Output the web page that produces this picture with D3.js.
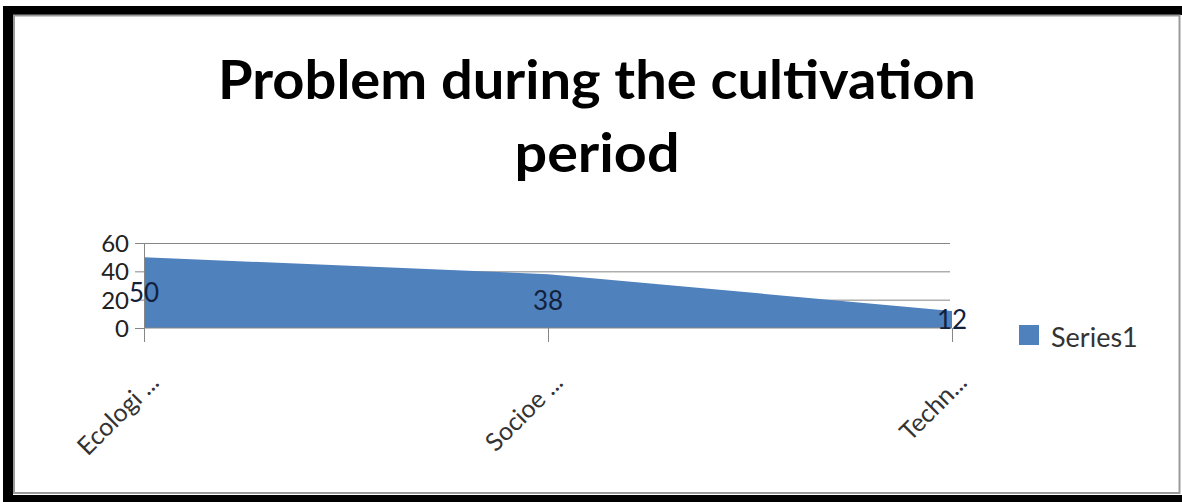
<!DOCTYPE html>
<html>
<head>
<meta charset="utf-8">
<script src="https://cdn.jsdelivr.net/npm/d3@7"></script>
<style>
  body { margin: 0; background: #ffffff; }
  svg { display: block; }
  .axis path, .axis line { stroke: #868686; }
  .grid line { stroke: #868686; }
  .grid path { display: none; }
</style>
</head>
<body>
<div id="chart"></div>
<script>
// chart data
var categories = ["Ecologi ...", "Socioe ...", "Techn..."];
var values = [50, 38, 12];
var yTicks = [0, 20, 40, 60];
var seriesName = "Series1";
var titleLines = ["Problem during the cultivation", "period"];

var W = 1182, H = 502;
var plot = { left: 144, right: 952, top: 243, bottom: 328 };
var areaColor = "#4f81bd";
var font = "Lato, 'Open Sans', sans-serif";

var svg = d3.select("#chart").append("svg")
        .attr("width", W)
        .attr("height", H);

// frame: black bands + thin grey inner border
svg.append("rect").attr("x", 0).attr("y", 0).attr("width", W).attr("height", H).attr("fill", "#ffffff");
svg.append("rect").attr("x", 3).attr("y", 6).attr("width", W - 3).attr("height", 9).attr("fill", "#000");
svg.append("rect").attr("x", 3).attr("y", 6).attr("width", 10).attr("height", H - 6).attr("fill", "#000");
svg.append("rect").attr("x", 3).attr("y", 495).attr("width", W - 3).attr("height", 7).attr("fill", "#000");
svg.append("rect")
        .attr("x", 14).attr("y", 15.5)
        .attr("width", 1165.5).attr("height", 477.5)
        .attr("fill", "none")
        .attr("stroke", "#9a9a9a")
        .attr("stroke-width", 2);

// title (two lines, widths matched to the original)
var title = svg.append("g").attr("class", "title");
var titleWidths = [758, 165];
var titleY = [99, 172];
title.selectAll("text")
        .data(titleLines)
        .enter().append("text")
        .attr("x", 597)
        .attr("y", function (d, i) { return titleY[i]; })
        .attr("text-anchor", "middle")
        .attr("font-family", font)
        .attr("font-weight", "bold")
        .attr("font-size", 53)
        .attr("textLength", function (d, i) { return titleWidths[i]; })
        .attr("lengthAdjust", "spacingAndGlyphs")
        .attr("fill", "#000")
        .text(function (d) { return d; });

var x = d3.scalePoint()
        .domain(categories)
        .range([plot.left, plot.right]);
var y = d3.scaleLinear()
        .domain([0, 60])
        .range([plot.bottom, plot.top]);

// gridlines
svg.append("g")
        .attr("class", "grid")
        .attr("transform", "translate(" + plot.left + ",0)")
        .call(d3.axisLeft(y).tickValues(yTicks.slice(1)).tickSize(-(plot.right - 2 - plot.left)).tickFormat(""));

// area
var area = d3.area()
        .x(function (d, i) { return x(categories[i]); })
        .y0(y(0))
        .y1(function (d) { return y(d); });
svg.append("path")
        .datum(values)
        .attr("d", area)
        .attr("fill", areaColor);

// y axis
var yAxis = svg.append("g")
        .attr("class", "axis y-axis")
        .attr("transform", "translate(" + plot.left + ",0)")
        .call(d3.axisLeft(y).tickValues(yTicks).tickSize(9).tickSizeOuter(0).tickPadding(6));
yAxis.selectAll("text")
        .attr("font-family", font)
        .attr("font-size", 24)
        .attr("fill", "#222")
        .attr("dy", "0.36em");

// x axis
var xAxis = svg.append("g")
        .attr("class", "axis x-axis")
        .attr("transform", "translate(0," + plot.bottom + ")")
        .call(d3.axisBottom(x).tickSize(14).tickSizeOuter(0));
xAxis.select(".domain").attr("d", "M" + plot.left + ",0H" + plot.right);
xAxis.selectAll("text")
        .attr("font-family", font)
        .attr("font-size", 25)
        .attr("fill", "#333")
        .attr("text-anchor", "end")
        .attr("y", 0)
        .attr("dy", 0)
        .attr("transform", "translate(16,56) rotate(-45)");

// data labels, placed at the middle of each column of the area
svg.append("g").selectAll("text")
        .data(values)
        .enter().append("text")
        .attr("x", function (d, i) { return x(categories[i]); })
        .attr("y", function (d) { return y(d / 2); })
        .attr("dy", "0.36em")
        .attr("text-anchor", "middle")
        .attr("font-family", font)
        .attr("font-size", 26)
        .attr("fill", "#13213d")
        .text(function (d) { return d; });

// legend
var legend = svg.append("g").attr("transform", "translate(1019,325)");
legend.append("rect")
        .attr("width", 20).attr("height", 20)
        .attr("fill", areaColor);
legend.append("text")
        .attr("x", 32).attr("y", 22)
        .attr("font-family", font)
        .attr("font-size", 27)
        .attr("fill", "#333")
        .text(seriesName);
</script>
</body>
</html>
